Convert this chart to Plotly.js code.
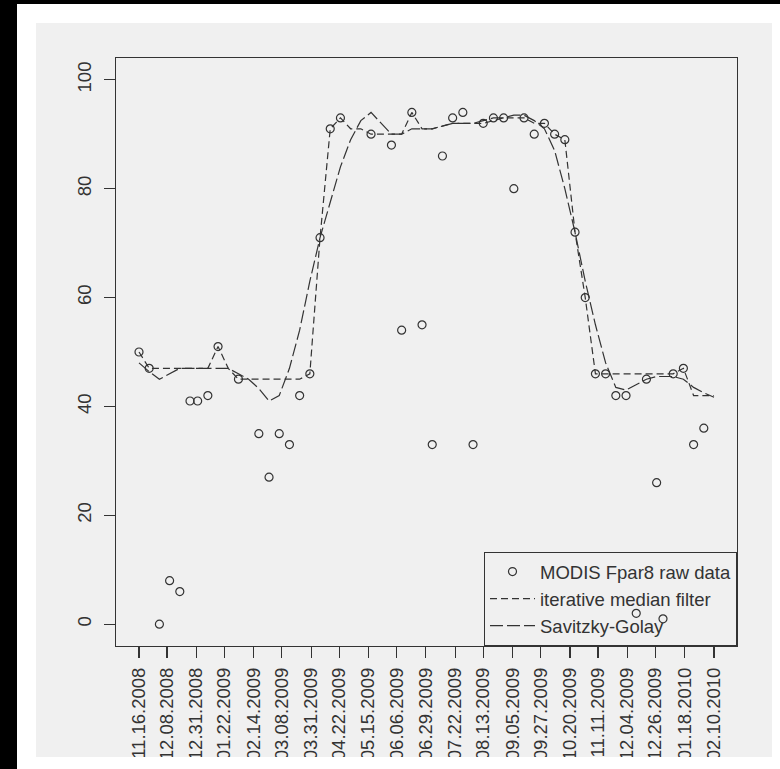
<!DOCTYPE html>
<html>
<head>
<meta charset="utf-8">
<script src="https://cdn.plot.ly/plotly-3.0.1.min.js"></script>
<style>
  html, body { margin: 0; padding: 0; background: #ffffff; }
  #chart { width: 780px; height: 769px; }
</style>
</head>
<body>
<div id="chart"></div>
<script>
// MODIS 8-day composite dates
const dates = ['2008-11-16','2008-11-24','2008-12-02','2008-12-10','2008-12-18','2008-12-26',
  '2009-01-01','2009-01-09','2009-01-17','2009-01-25','2009-02-02','2009-02-10','2009-02-18','2009-02-26',
  '2009-03-06','2009-03-14','2009-03-22','2009-03-30','2009-04-07','2009-04-15','2009-04-23',
  '2009-05-01','2009-05-09','2009-05-17','2009-05-25','2009-06-02','2009-06-10','2009-06-18','2009-06-26',
  '2009-07-04','2009-07-12','2009-07-20','2009-07-28','2009-08-05','2009-08-13','2009-08-21','2009-08-29',
  '2009-09-06','2009-09-14','2009-09-22','2009-09-30','2009-10-08','2009-10-16','2009-10-24',
  '2009-11-01','2009-11-09','2009-11-17','2009-11-25','2009-12-03','2009-12-11','2009-12-19','2009-12-27',
  '2010-01-01','2010-01-09','2010-01-17','2010-01-25','2010-02-02','2010-02-10'];

// MODIS Fpar8 raw data
const rawFpar = [50,47,0,8,6,41,41,42,51,null,45,null,35,27,35,33,42,46,71,91,93,null,null,90,null,88,54,94,55,33,
  86,93,94,33,92,93,93,80,93,90,92,90,89,72,60,46,46,42,42,2,45,26,1,46,47,33,36,null];

// iterative median filter
const medianFilter = [50,47,47,47,47,47,47,47,51,47,45,45,45,45,45,45,45,46,71,91,93,91,91,90,90,90,90,94,91,91,
  91.5,92,92,92,92,92.5,93,93,93,92,92,90,89,72,60,46,46,46,46,46,46,46,46,46,47,42,42,42];

// Savitzky-Golay
const savGolay = [48,46.4,45,46,47,47,47,47,47,47,46,45,43.3,41,42,47,54,63,71,77.5,84,89,92.5,94,92,90,90,91,91,91,
  91.5,92,92,92,92.5,93,93,93.5,93.5,92.5,91,87,80,72,63,55,48,43.5,43,44,45,45.5,45.5,45.5,45,43.5,42.5,41.7];

const tickDates = ['2008-11-16','2008-12-08','2008-12-31','2009-01-22','2009-02-14','2009-03-08','2009-03-31',
  '2009-04-22','2009-05-15','2009-06-06','2009-06-29','2009-07-22','2009-08-13','2009-09-05','2009-09-27',
  '2009-10-20','2009-11-11','2009-12-04','2009-12-26','2010-01-18','2010-02-10'];
const tickLabels = ['11.16.2008','12.08.2008','12.31.2008','01.22.2009','02.14.2009','03.08.2009','03.31.2009',
  '04.22.2009','05.15.2009','06.06.2009','06.29.2009','07.22.2009','08.13.2009','09.05.2009','09.27.2009',
  '10.20.2009','11.11.2009','12.04.2009','12.26.2009','01.18.2010','02.10.2010'];

const yTickVals = [0,20,40,60,80,100];
const yTickText = ['0','20','40','60','80','100'];
const seriesNames = ['MODIS Fpar8 raw data','iterative median filter','Savitzky-Golay'];

// R-style 4% axis extension
const t0 = Date.parse(dates[0] + 'T00:00:00Z');
const t1 = Date.parse(dates[dates.length-1] + 'T00:00:00Z');
const pad = (t1 - t0) * 0.04;
const iso = t => new Date(t).toISOString().replace('T',' ').replace('Z','');
const xRange = [iso(t0 - pad), iso(t1 + pad)];

const ink = '#333333';
const fontFam = '"Liberation Sans", Arial, Helvetica, sans-serif';

const traces = [
  { x: dates, y: rawFpar, name: seriesNames[0], type: 'scatter', mode: 'markers',
    marker: { symbol: 'circle-open', size: 8, color: ink, line: { width: 1.2, color: ink } } },
  { x: dates, y: medianFilter, name: seriesNames[1], type: 'scatter', mode: 'lines',
    line: { color: ink, width: 1.2, dash: '7px,4px' } },
  { x: dates, y: savGolay, name: seriesNames[2], type: 'scatter', mode: 'lines',
    line: { color: ink, width: 1.2, dash: '13px,4px' } }
];

// paper-coordinate helpers for the frame
const W = 780, H = 769, L = 116, R = 43, T = 58, B = 123;
const pw = W - L - R, ph = H - T - B;
const fx = px => (px - L) / pw;
const fy = py => (H - B - py) / ph;

const layout = {
  width: W, height: H,
  margin: { l: L, r: R, t: T, b: B, pad: 0 },
  paper_bgcolor: '#ffffff',
  plot_bgcolor: '#f0f0f0',
  font: { family: fontFam, size: 18.5, color: ink },
  showlegend: true,
  legend: {
    x: 1, xanchor: 'right', y: 0, yanchor: 'bottom',
    bgcolor: 'rgba(0,0,0,0)', bordercolor: ink, borderwidth: 1,
    font: { family: fontFam, size: 18.5, color: ink },
    itemwidth: 45, tracegroupgap: 0
  },
  xaxis: {
    type: 'date', range: xRange, autorange: false,
    tickmode: 'array', tickvals: tickDates, ticktext: tickLabels, tickangle: -90,
    ticks: 'outside', ticklen: 11, tickwidth: 1.2, tickcolor: ink,
    showline: true, mirror: true, linecolor: ink, linewidth: 1.2,
    showgrid: false, zeroline: false, ticklabelstandoff: 2,
    tickfont: { family: fontFam, size: 18.5, color: ink }
  },
  yaxis: {
    range: [-4, 104], autorange: false,
    tickmode: 'array', tickvals: yTickVals, ticktext: yTickText, tickangle: -90,
    ticks: 'outside', ticklen: 11, tickwidth: 1.2, tickcolor: ink,
    showline: true, mirror: true, linecolor: ink, linewidth: 1.2,
    showgrid: false, zeroline: false, ticklabelstandoff: 5,
    tickfont: { family: fontFam, size: 18.5, color: ink }
  },
  shapes: [
    // grey panel
    { type: 'rect', xref: 'paper', yref: 'paper', layer: 'below', line: { width: 0 },
      fillcolor: '#f0f0f0', x0: fx(36), x1: fx(772), y0: fy(757), y1: fy(23) },
    // black frame strips
    { type: 'rect', xref: 'paper', yref: 'paper', layer: 'below', line: { width: 0 },
      fillcolor: '#000000', x0: fx(0), x1: fx(17), y0: fy(769), y1: fy(0) },
    { type: 'rect', xref: 'paper', yref: 'paper', layer: 'below', line: { width: 0 },
      fillcolor: '#000000', x0: fx(0), x1: fx(780), y0: fy(4), y1: fy(0) },
    // cropped bottom of the screenshot
    { type: 'rect', xref: 'paper', yref: 'paper', layer: 'above', line: { width: 0 },
      fillcolor: '#ffffff', x0: fx(17), x1: fx(780), y0: fy(769), y1: fy(757) }
  ]
};

Plotly.newPlot('chart', traces, layout, { displayModeBar: false, staticPlot: true });
</script>
</body>
</html>
